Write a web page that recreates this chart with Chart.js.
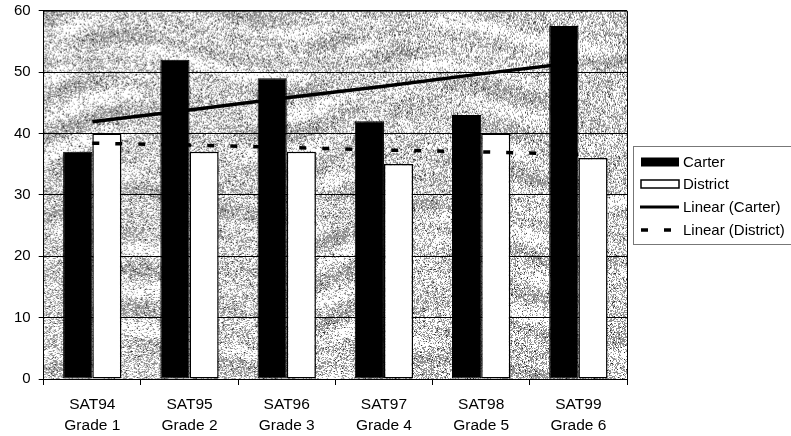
<!DOCTYPE html>
<html>
<head>
<meta charset="utf-8">
<script src="https://cdn.jsdelivr.net/npm/chart.js@4/dist/chart.umd.min.js"></script>
<style>
html,body{margin:0;padding:0;background:#fff;}
#wrap{position:relative;width:791px;height:436px;}
</style>
</head>
<body>
<div id="wrap"><canvas id="c" width="791" height="436"></canvas></div>
<script>
// ---- data ----
const testNames = ['SAT94','SAT95','SAT96','SAT97','SAT98','SAT99'];
const gradeNames = ['Grade 1','Grade 2','Grade 3','Grade 4','Grade 5','Grade 6'];
const carter = [37, 52, 49, 42, 43, 57.5];
const district = [40, 37, 37, 35, 40, 36];
const carterTrend = [41.9, 43.8, 45.8, 47.7, 49.7, 51.6];
const districtTrend = [38.4, 38.1, 37.7, 37.3, 37.0, 36.6];
const seriesNames = ['Carter','District','Linear (Carter)','Linear (District)'];
const yMin = 0, yMax = 60, yStep = 10;

const labels = testNames.map((t,i)=>[t, gradeNames[i]]);
const FONT = "'Liberation Sans', Arial, sans-serif";

// speckled grey plot background (deterministic)
function makeTexture(w,h){
  const c=document.createElement('canvas'); c.width=w; c.height=h;
  const g=c.getContext('2d'); const img=g.createImageData(w,h); const d=img.data;
  for(let y=0;y<h;y++){
    for(let x=0;x<w;x++){
      let n=Math.sin(x*12.9898+y*78.233)*43758.5453; n=n-Math.floor(n);
      const s1=Math.sin(y*0.16+Math.sin(x*0.02)*3+x*0.015);
      const s2=Math.sin(x*0.03-y*0.05+Math.cos(y*0.04)*2);
      const f=Math.max(0,Math.min(1,0.5+0.35*s1*s2+0.2*s1));
      const den=0.13+0.55*f;
      let v;
      if(n<den*0.07) v=40; else if(n<den) v=145; else if(n<den+0.08) v=215; else v=255;
      const k=(y*w+x)*4; d[k]=d[k+1]=d[k+2]=v; d[k+3]=255;
    }
  }
  g.putImageData(img,0,0);
  return c;
}
let tex=null;

const bgPlugin={
  id:'bg',
  beforeDraw(chart){
    const a=chart.chartArea, ctx=chart.ctx;
    const w=Math.round(a.right-a.left), h=Math.round(a.bottom-a.top);
    if(!tex || tex.width!==w || tex.height!==h) tex=makeTexture(w,h);
    ctx.save();
    ctx.drawImage(tex,a.left,a.top,a.right-a.left,a.bottom-a.top);
    ctx.restore();
  },
  afterDraw(chart){
    const a=chart.chartArea, ctx=chart.ctx;
    ctx.save();
    ctx.strokeStyle='#000'; ctx.lineWidth=1;
    ctx.beginPath();
    ctx.moveTo(a.left,a.top+0.5); ctx.lineTo(a.right+0.5,a.top+0.5); ctx.lineTo(a.right+0.5,a.bottom);
    ctx.stroke();
    // legend
    const lx=633, ly=146, lw=170, lh=98;
    ctx.strokeStyle='#777'; ctx.lineWidth=1;
    ctx.strokeRect(lx+0.5,ly+0.5,lw,lh);
    const sx=641, sw=38, tx=683;
    const rows=[162,184,207,230];
    ctx.fillStyle='#000'; ctx.fillRect(sx,rows[0]-4.5,sw,9);
    ctx.fillStyle='#fff'; ctx.fillRect(sx,rows[1]-4,sw,8);
    ctx.strokeStyle='#000'; ctx.lineWidth=1.5; ctx.strokeRect(sx,rows[1]-4,sw,8);
    ctx.lineWidth=3; ctx.beginPath(); ctx.moveTo(sx-1,rows[2]); ctx.lineTo(sx+sw,rows[2]); ctx.stroke();
    ctx.setLineDash([7,16]); ctx.lineWidth=3.5; ctx.beginPath(); ctx.moveTo(sx,rows[3]); ctx.lineTo(sx+sw,rows[3]); ctx.stroke();
    ctx.setLineDash([]);
    ctx.fillStyle='#000'; ctx.font='15px '+FONT; ctx.textBaseline='middle'; ctx.textAlign='left';
    seriesNames.forEach((s,i)=>ctx.fillText(s,tx,rows[i]+1));
    ctx.restore();
  }
};

new Chart(document.getElementById('c'),{
  data:{
    labels:labels,
    datasets:[
      {type:'line',label:seriesNames[2],data:carterTrend,borderColor:'#000',borderWidth:3.5,pointRadius:0,fill:false,order:0,tension:0},
      {type:'line',label:seriesNames[3],data:districtTrend,borderColor:'#000',borderWidth:3.5,borderDash:[7,16],pointRadius:0,fill:false,order:0,tension:0},
      {type:'bar',label:seriesNames[0],data:carter,backgroundColor:'#000',borderColor:'#000',borderWidth:1,borderSkipped:false,order:1,categoryPercentage:0.6,barPercentage:1.0},
      {type:'bar',label:seriesNames[1],data:district,backgroundColor:'#fff',borderColor:'#000',borderWidth:1.5,borderSkipped:false,order:1,categoryPercentage:0.6,barPercentage:1.0}
    ]
  },
  options:{
    responsive:false,
    animation:false,
    devicePixelRatio:1,
    layout:{padding:{left:6,right:164,top:0,bottom:0}},
    plugins:{legend:{display:false},tooltip:{enabled:false}},
    scales:{
      x:{
        offset:true,
        grid:{display:true,drawOnChartArea:false,drawTicks:true,tickLength:6,color:'#000',offset:true},
        border:{display:true,color:'#000',width:1},
        ticks:{color:'#000',font:{family:FONT,size:15.5,lineHeight:1.3},padding:10,maxRotation:0,autoSkip:false},
        afterFit(scale){ scale.height = 57; }
      },
      y:{
        min:yMin,max:yMax,
        grid:{color:'#000',lineWidth:1,tickLength:5,drawTicks:true},
        border:{display:true,color:'#000',width:1},
        ticks:{stepSize:yStep,color:'#000',font:{family:FONT,size:15,lineHeight:0.35},padding:8}
      }
    }
  },
  plugins:[bgPlugin]
});
</script>
</body>
</html>
